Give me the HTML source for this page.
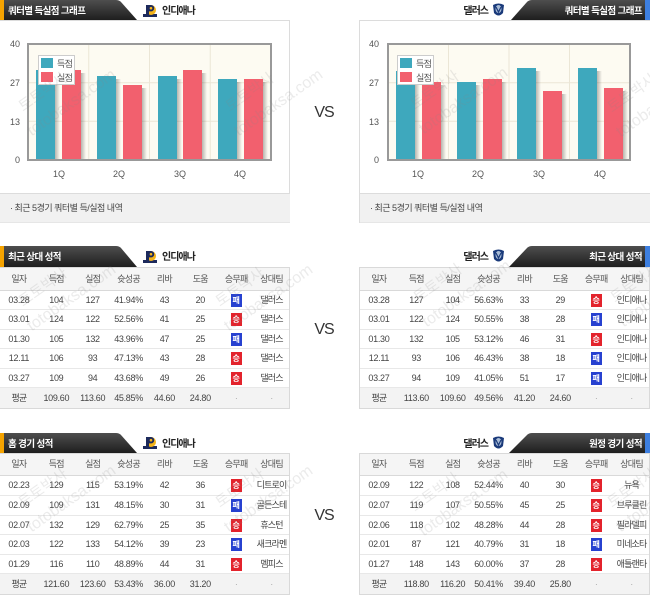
<!DOCTYPE html>
<html><head><meta charset="utf-8">
<style>
html,body{margin:0;padding:0;background:#fff;}
body{width:650px;height:596px;position:relative;overflow:hidden;font-family:"Liberation Sans","Noto Sans CJK KR",sans-serif;}
svg{position:absolute;left:0;top:0;}
.tb{position:absolute;width:291px;border:1px solid #d9d9d9;box-sizing:border-box;background:#fff;}
.r{display:flex;box-sizing:border-box;border-bottom:1px solid #e8e8e8;}
.r span{display:block;text-align:center;font-size:9px;letter-spacing:-0.3px;color:#444;white-space:nowrap;overflow:visible;}
.r span:nth-child(1){width:38px}
.r span:nth-child(2){width:37px}
.r span:nth-child(3){width:36px}
.r span:nth-child(4){width:36px}
.r span:nth-child(5){width:36px}
.r span:nth-child(6){width:36px}
.r span:nth-child(7){width:36px}
.r span:nth-child(8){width:35px}
.hd{background:#f5f5f5;border-bottom:1px solid #d9d9d9;}
.hd span{color:#555 !important;letter-spacing:-0.7px !important;}
.k{letter-spacing:-0.8px !important;}
.av{background:#f3f3f3;border-bottom:0;}
.dot{color:#aaa !important;}
.w,.l{display:inline-block;width:11px;height:13px;line-height:13px;color:#fff;font-size:8px;letter-spacing:0;vertical-align:middle;font-weight:bold;}
.w{background:#e3232c;}
.l{background:#2741d0;}
</style></head>
<body>
<svg width="650" height="596" viewBox="0 0 650 596" font-family="Liberation Sans, Noto Sans CJK KR, sans-serif">
<defs>
<linearGradient id="tab" x1="0" y1="0" x2="0" y2="1"><stop offset="0" stop-color="#4e4e4e"/><stop offset="1" stop-color="#1e1e1e"/></linearGradient>
<linearGradient id="sh" x1="0" x2="1" y1="0" y2="0"><stop offset="0" stop-color="#000" stop-opacity=".28"/><stop offset="1" stop-color="#000" stop-opacity="0"/></linearGradient>
<g id="pacers">
<rect x="0" y="9" width="14" height="3" fill="#1d2a5c"/>
<circle cx="8" cy="5" r="5" fill="#f4b41a"/>
<rect x="3" y="0" width="3" height="12" fill="#1d2a5c"/>
<path d="M5,0 h3 a3.2,3.2 0 0 1 0,6.4 h-3 z" fill="#1d2a5c"/>
<circle cx="8" cy="3.2" r="1.3" fill="#f4b41a"/>
</g>
<g id="mavs">
<path d="M0,2 Q5.5,-1 11,2 L10,10 Q5.5,15 1,10 Z" fill="#1a3a7a"/>
<ellipse cx="5.5" cy="6" rx="3" ry="4" fill="#a9bcd6"/>
<path d="M3,4 L5.5,9 L8,4" stroke="#1a3a7a" stroke-width="1.2" fill="none"/>
</g>
</defs>

<rect x="-0.5" y="20.5" width="290" height="202" fill="#fff" stroke="#dcdcdc"/>
<rect x="0" y="193" width="290" height="29.5" fill="#f1f1f1"/>
<line x1="0" y1="193.5" x2="290" y2="193.5" stroke="#dcdcdc"/>
<rect x="359.5" y="20.5" width="291" height="202" fill="#fff" stroke="#dcdcdc"/>
<rect x="360" y="193" width="290" height="29.5" fill="#f1f1f1"/>
<line x1="360" y1="193.5" x2="650" y2="193.5" stroke="#dcdcdc"/>

<text x="10" y="211" font-size="9" fill="#444" letter-spacing="-0.5">·  최근 5경기 쿼터별 득/실점 내역</text>
<text x="370" y="211" font-size="9" fill="#444" letter-spacing="-0.5">·  최근 5경기 쿼터별 득/실점 내역</text>

<path d="M0,0 H116 Q119,0 121,2 L137,20 H0 Z" fill="url(#tab)"/>
<rect x="0" y="0" width="4" height="20" fill="#f5a300"/>
<text x="8" y="14" font-size="9.5" font-weight="bold" fill="#fff" letter-spacing="-0.6">쿼터별 득실점 그래프</text>
<use href="#pacers" x="143" y="5"/>
<text x="162" y="14" font-size="10" font-weight="bold" fill="#222" letter-spacing="-1">인디애나</text>

<path d="M650,0 H532 Q529,0 527,2 L511,20 H650 Z" fill="url(#tab)"/>
<rect x="645" y="0" width="5" height="20" fill="#3d7fe0"/>
<text x="642" y="14" font-size="9.5" font-weight="bold" fill="#fff" letter-spacing="-0.6" text-anchor="end">쿼터별 득실점 그래프</text>
<use href="#mavs" x="493" y="3"/>
<text x="488" y="14" font-size="10" font-weight="bold" fill="#222" letter-spacing="-1" text-anchor="end">댈러스</text>

<rect x="28" y="44" width="243" height="116" fill="#fdfbf2"/>
<g stroke="#ebe6d6" stroke-width="1">
<line x1="88.75" y1="44" x2="88.75" y2="160"/><line x1="149.5" y1="44" x2="149.5" y2="160"/><line x1="210.25" y1="44" x2="210.25" y2="160"/>
<line x1="28" y1="82.7" x2="271" y2="82.7"/><line x1="28" y1="121.3" x2="271" y2="121.3"/>
</g>
<g>
<rect x="55" y="73" width="5" height="86" fill="url(#sh)"/><rect x="36" y="70" width="19" height="89" fill="#3ea8bd"/>
<rect x="81" y="73" width="5" height="86" fill="url(#sh)"/><rect x="62" y="70" width="19" height="89" fill="#f2606e"/>
<rect x="116" y="79" width="5" height="80" fill="url(#sh)"/><rect x="97" y="76" width="19" height="83" fill="#3ea8bd"/>
<rect x="142" y="88" width="5" height="71" fill="url(#sh)"/><rect x="123" y="85" width="19" height="74" fill="#f2606e"/>
<rect x="177" y="79" width="5" height="80" fill="url(#sh)"/><rect x="158" y="76" width="19" height="83" fill="#3ea8bd"/>
<rect x="202" y="73" width="5" height="86" fill="url(#sh)"/><rect x="183" y="70" width="19" height="89" fill="#f2606e"/>
<rect x="237" y="82" width="5" height="77" fill="url(#sh)"/><rect x="218" y="79" width="19" height="80" fill="#3ea8bd"/>
<rect x="263" y="82" width="5" height="77" fill="url(#sh)"/><rect x="244" y="79" width="19" height="80" fill="#f2606e"/>
</g>
<rect x="28" y="44" width="243" height="116" fill="none" stroke="#999" stroke-width="2"/>
<rect x="38.5" y="55.5" width="36" height="29" fill="#fff" stroke="#ccc"/>
<rect x="41" y="58" width="12" height="10" fill="#3ea8bd"/>
<rect x="41" y="72" width="12" height="10" fill="#f2606e"/>
<text x="57" y="67" font-size="9" fill="#555" letter-spacing="-0.6">득점</text>
<text x="57" y="81" font-size="9" fill="#555" letter-spacing="-0.6">실점</text>
<g font-size="9" fill="#555" text-anchor="end">
<text x="20" y="47">40</text><text x="20" y="86">27</text><text x="20" y="125">13</text><text x="20" y="163">0</text>
</g>
<g font-size="9" fill="#555" text-anchor="middle">
<text x="59" y="177">1Q</text><text x="119" y="177">2Q</text><text x="180" y="177">3Q</text><text x="240" y="177">4Q</text>
</g>

<rect x="388" y="44" width="242" height="116" fill="#fdfbf2"/>
<g stroke="#ebe6d6" stroke-width="1">
<line x1="448.5" y1="44" x2="448.5" y2="160"/><line x1="509" y1="44" x2="509" y2="160"/><line x1="569.5" y1="44" x2="569.5" y2="160"/>
<line x1="388" y1="82.7" x2="630" y2="82.7"/><line x1="388" y1="121.3" x2="630" y2="121.3"/>
</g>
<g>
<rect x="415" y="74" width="5" height="85" fill="url(#sh)"/><rect x="396" y="71" width="19" height="88" fill="#3ea8bd"/>
<rect x="441" y="85" width="5" height="74" fill="url(#sh)"/><rect x="422" y="82" width="19" height="77" fill="#f2606e"/>
<rect x="476" y="85" width="5" height="74" fill="url(#sh)"/><rect x="457" y="82" width="19" height="77" fill="#3ea8bd"/>
<rect x="502" y="82" width="5" height="77" fill="url(#sh)"/><rect x="483" y="79" width="19" height="80" fill="#f2606e"/>
<rect x="536" y="71" width="5" height="88" fill="url(#sh)"/><rect x="517" y="68" width="19" height="91" fill="#3ea8bd"/>
<rect x="562" y="94" width="5" height="65" fill="url(#sh)"/><rect x="543" y="91" width="19" height="68" fill="#f2606e"/>
<rect x="597" y="71" width="5" height="88" fill="url(#sh)"/><rect x="578" y="68" width="19" height="91" fill="#3ea8bd"/>
<rect x="623" y="91" width="5" height="68" fill="url(#sh)"/><rect x="604" y="88" width="19" height="71" fill="#f2606e"/>
</g>
<rect x="388" y="44" width="242" height="116" fill="none" stroke="#999" stroke-width="2"/>
<rect x="397.5" y="55.5" width="36" height="29" fill="#fff" stroke="#ccc"/>
<rect x="400" y="58" width="12" height="10" fill="#3ea8bd"/>
<rect x="400" y="72" width="12" height="10" fill="#f2606e"/>
<text x="416" y="67" font-size="9" fill="#555" letter-spacing="-0.6">득점</text>
<text x="416" y="81" font-size="9" fill="#555" letter-spacing="-0.6">실점</text>
<g font-size="9" fill="#555" text-anchor="end">
<text x="379" y="47">40</text><text x="379" y="86">27</text><text x="379" y="125">13</text><text x="379" y="163">0</text>
</g>
<g font-size="9" fill="#555" text-anchor="middle">
<text x="418" y="177">1Q</text><text x="478" y="177">2Q</text><text x="539" y="177">3Q</text><text x="600" y="177">4Q</text>
</g>

<g font-size="16" fill="#333" text-anchor="middle" letter-spacing="-1">
<text x="324" y="117">VS</text>
<text x="324" y="334">VS</text>
<text x="324" y="520">VS</text>
</g>

<path d="M0,246 H116 Q119,246 121,248 L137,267 H0 Z" fill="url(#tab)"/>
<rect x="0" y="246" width="4" height="21" fill="#f5a300"/>
<text x="8" y="260" font-size="9.5" font-weight="bold" fill="#fff" letter-spacing="-0.6">최근 상대 성적</text>
<use href="#pacers" x="143" y="251"/>
<text x="162" y="260" font-size="10" font-weight="bold" fill="#222" letter-spacing="-1">인디애나</text>
<path d="M650,246 H532 Q529,246 527,248 L509,267 H650 Z" fill="url(#tab)"/>
<rect x="645" y="246" width="5" height="21" fill="#3d7fe0"/>
<text x="642" y="260" font-size="9.5" font-weight="bold" fill="#fff" letter-spacing="-0.6" text-anchor="end">최근 상대 성적</text>
<use href="#mavs" x="493" y="249"/>
<text x="488" y="260" font-size="10" font-weight="bold" fill="#222" letter-spacing="-1" text-anchor="end">댈러스</text>

<path d="M0,433 H116 Q119,433 121,435 L137,453 H0 Z" fill="url(#tab)"/>
<rect x="0" y="433" width="4" height="20" fill="#f5a300"/>
<text x="8" y="447" font-size="9.5" font-weight="bold" fill="#fff" letter-spacing="-0.6">홈 경기 성적</text>
<use href="#pacers" x="143" y="437"/>
<text x="162" y="447" font-size="10" font-weight="bold" fill="#222" letter-spacing="-1">인디애나</text>
<path d="M650,433 H532 Q529,433 527,435 L509,453 H650 Z" fill="url(#tab)"/>
<rect x="645" y="433" width="5" height="20" fill="#3d7fe0"/>
<text x="642" y="447" font-size="9.5" font-weight="bold" fill="#fff" letter-spacing="-0.6" text-anchor="end">원정 경기 성적</text>
<use href="#mavs" x="493" y="436"/>
<text x="488" y="447" font-size="10" font-weight="bold" fill="#222" letter-spacing="-1" text-anchor="end">댈러스</text>
</svg>

<div class="tb" style="left:-1px;top:267px;">
<div class="r hd" style="height:23px;line-height:22px"><span>일자</span><span>득점</span><span>실점</span><span>슛성공</span><span>리바</span><span>도움</span><span>승무패</span><span>상대팀</span></div>
<div class="r" style="height:19px;line-height:18px"><span>03.28</span><span>104</span><span>127</span><span>41.94%</span><span>43</span><span>20</span><span><b class="l">패</b></span><span class="k">댈러스</span></div>
<div class="r" style="height:20px;line-height:19px"><span>03.01</span><span>124</span><span>122</span><span>52.56%</span><span>41</span><span>25</span><span><b class="w">승</b></span><span class="k">댈러스</span></div>
<div class="r" style="height:19px;line-height:18px"><span>01.30</span><span>105</span><span>132</span><span>43.96%</span><span>47</span><span>25</span><span><b class="l">패</b></span><span class="k">댈러스</span></div>
<div class="r" style="height:20px;line-height:19px"><span>12.11</span><span>106</span><span>93</span><span>47.13%</span><span>43</span><span>28</span><span><b class="w">승</b></span><span class="k">댈러스</span></div>
<div class="r" style="height:19px;line-height:18px"><span>03.27</span><span>109</span><span>94</span><span>43.68%</span><span>49</span><span>26</span><span><b class="w">승</b></span><span class="k">댈러스</span></div>
<div class="r av" style="height:20px;line-height:20px"><span class="k">평균</span><span>109.60</span><span>113.60</span><span>45.85%</span><span>44.60</span><span>24.80</span><span class="dot">·</span><span class="dot">·</span></div>
</div>

<div class="tb" style="left:359px;top:267px;">
<div class="r hd" style="height:23px;line-height:22px"><span>일자</span><span>득점</span><span>실점</span><span>슛성공</span><span>리바</span><span>도움</span><span>승무패</span><span>상대팀</span></div>
<div class="r" style="height:19px;line-height:18px"><span>03.28</span><span>127</span><span>104</span><span>56.63%</span><span>33</span><span>29</span><span><b class="w">승</b></span><span class="k">인디애나</span></div>
<div class="r" style="height:20px;line-height:19px"><span>03.01</span><span>122</span><span>124</span><span>50.55%</span><span>38</span><span>28</span><span><b class="l">패</b></span><span class="k">인디애나</span></div>
<div class="r" style="height:19px;line-height:18px"><span>01.30</span><span>132</span><span>105</span><span>53.12%</span><span>46</span><span>31</span><span><b class="w">승</b></span><span class="k">인디애나</span></div>
<div class="r" style="height:20px;line-height:19px"><span>12.11</span><span>93</span><span>106</span><span>46.43%</span><span>38</span><span>18</span><span><b class="l">패</b></span><span class="k">인디애나</span></div>
<div class="r" style="height:19px;line-height:18px"><span>03.27</span><span>94</span><span>109</span><span>41.05%</span><span>51</span><span>17</span><span><b class="l">패</b></span><span class="k">인디애나</span></div>
<div class="r av" style="height:20px;line-height:20px"><span class="k">평균</span><span>113.60</span><span>109.60</span><span>49.56%</span><span>41.20</span><span>24.60</span><span class="dot">·</span><span class="dot">·</span></div>
</div>

<div class="tb" style="left:-1px;top:453px;">
<div class="r hd" style="height:22px;line-height:21px"><span>일자</span><span>득점</span><span>실점</span><span>슛성공</span><span>리바</span><span>도움</span><span>승무패</span><span>상대팀</span></div>
<div class="r" style="height:20px;line-height:19px"><span>02.23</span><span>129</span><span>115</span><span>53.19%</span><span>42</span><span>36</span><span><b class="w">승</b></span><span class="k">디트로이</span></div>
<div class="r" style="height:20px;line-height:19px"><span>02.09</span><span>109</span><span>131</span><span>48.15%</span><span>30</span><span>31</span><span><b class="l">패</b></span><span class="k">골든스테</span></div>
<div class="r" style="height:19px;line-height:18px"><span>02.07</span><span>132</span><span>129</span><span>62.79%</span><span>25</span><span>35</span><span><b class="w">승</b></span><span class="k">휴스턴</span></div>
<div class="r" style="height:20px;line-height:19px"><span>02.03</span><span>122</span><span>133</span><span>54.12%</span><span>39</span><span>23</span><span><b class="l">패</b></span><span class="k">새크라멘</span></div>
<div class="r" style="height:19px;line-height:18px"><span>01.29</span><span>116</span><span>110</span><span>48.89%</span><span>44</span><span>31</span><span><b class="w">승</b></span><span class="k">멤피스</span></div>
<div class="r av" style="height:20px;line-height:20px"><span class="k">평균</span><span>121.60</span><span>123.60</span><span>53.43%</span><span>36.00</span><span>31.20</span><span class="dot">·</span><span class="dot">·</span></div>
</div>

<div class="tb" style="left:359px;top:453px;">
<div class="r hd" style="height:22px;line-height:21px"><span>일자</span><span>득점</span><span>실점</span><span>슛성공</span><span>리바</span><span>도움</span><span>승무패</span><span>상대팀</span></div>
<div class="r" style="height:20px;line-height:19px"><span>02.09</span><span>122</span><span>108</span><span>52.44%</span><span>40</span><span>30</span><span><b class="w">승</b></span><span class="k">뉴욕</span></div>
<div class="r" style="height:20px;line-height:19px"><span>02.07</span><span>119</span><span>107</span><span>50.55%</span><span>45</span><span>25</span><span><b class="w">승</b></span><span class="k">브루클린</span></div>
<div class="r" style="height:19px;line-height:18px"><span>02.06</span><span>118</span><span>102</span><span>48.28%</span><span>44</span><span>28</span><span><b class="w">승</b></span><span class="k">필라델피</span></div>
<div class="r" style="height:20px;line-height:19px"><span>02.01</span><span>87</span><span>121</span><span>40.79%</span><span>31</span><span>18</span><span><b class="l">패</b></span><span class="k">미네소타</span></div>
<div class="r" style="height:19px;line-height:18px"><span>01.27</span><span>148</span><span>143</span><span>60.00%</span><span>37</span><span>28</span><span><b class="w">승</b></span><span class="k">애틀랜타</span></div>
<div class="r av" style="height:20px;line-height:20px"><span class="k">평균</span><span>118.80</span><span>116.20</span><span>50.41%</span><span>39.40</span><span>25.80</span><span class="dot">·</span><span class="dot">·</span></div>
</div>

<svg width="650" height="596" viewBox="0 0 650 596" style="pointer-events:none" font-family="Liberation Sans, Noto Sans CJK KR, sans-serif" fill="#888" fill-opacity="0.17">
<g transform="translate(23,112) rotate(-35)"><text x="0" y="0" font-size="15">토토박사</text><text x="-7" y="25" font-size="16">totobaksa.com</text></g>
<g transform="translate(230,112) rotate(-35)"><text x="0" y="0" font-size="15">토토박사</text><text x="-7" y="25" font-size="16">totobaksa.com</text></g>
<g transform="translate(415,110) rotate(-35)"><text x="0" y="0" font-size="15">토토박사</text><text x="-7" y="25" font-size="16">totobaksa.com</text></g>
<g transform="translate(612,113) rotate(-35)"><text x="0" y="0" font-size="15">토토박사</text><text x="-7" y="25" font-size="16">totobaksa.com</text></g>
<g transform="translate(23,307) rotate(-35)"><text x="0" y="0" font-size="15">토토박사</text><text x="-7" y="25" font-size="16">totobaksa.com</text></g>
<g transform="translate(220,307) rotate(-35)"><text x="0" y="0" font-size="15">토토박사</text><text x="-7" y="25" font-size="16">totobaksa.com</text></g>
<g transform="translate(418,303) rotate(-35)"><text x="0" y="0" font-size="15">토토박사</text><text x="-7" y="25" font-size="16">totobaksa.com</text></g>
<g transform="translate(615,303) rotate(-35)"><text x="0" y="0" font-size="15">토토박사</text><text x="-7" y="25" font-size="16">totobaksa.com</text></g>
<g transform="translate(23,508) rotate(-35)"><text x="0" y="0" font-size="15">토토박사</text><text x="-7" y="25" font-size="16">totobaksa.com</text></g>
<g transform="translate(220,508) rotate(-35)"><text x="0" y="0" font-size="15">토토박사</text><text x="-7" y="25" font-size="16">totobaksa.com</text></g>
<g transform="translate(415,512) rotate(-35)"><text x="0" y="0" font-size="15">토토박사</text><text x="-7" y="25" font-size="16">totobaksa.com</text></g>
<g transform="translate(612,508) rotate(-35)"><text x="0" y="0" font-size="15">토토박사</text><text x="-7" y="25" font-size="16">totobaksa.com</text></g>
</svg>
</body></html>
